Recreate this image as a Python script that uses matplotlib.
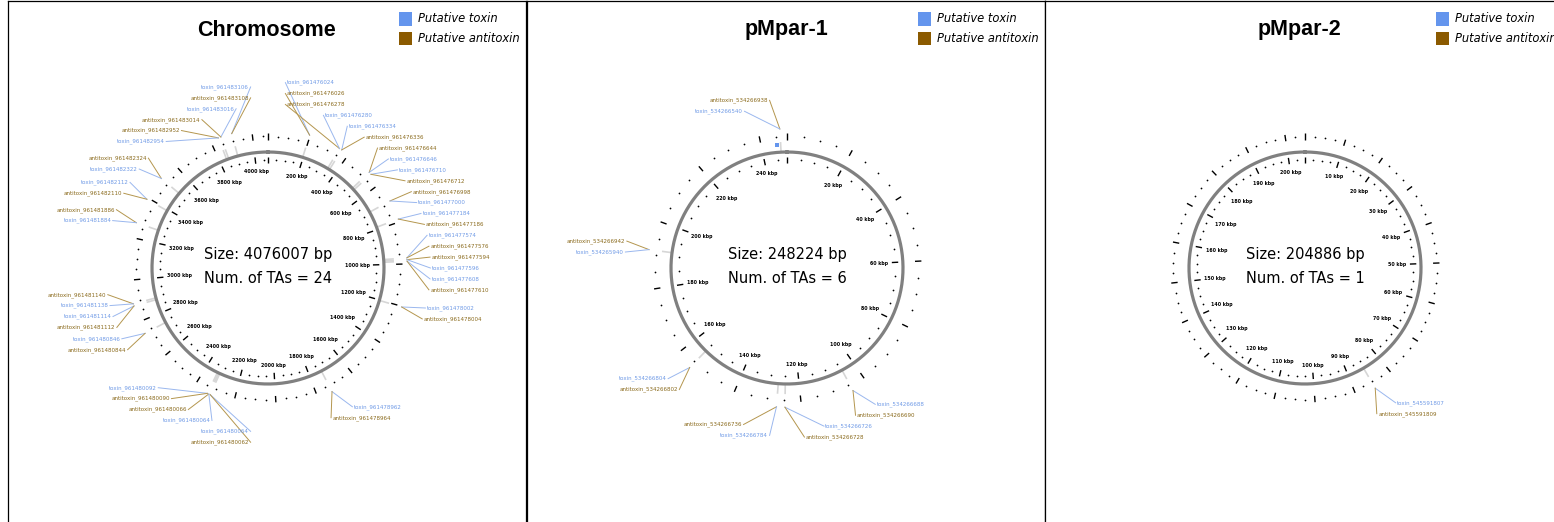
import numpy as np
import matplotlib.pyplot as plt
from matplotlib.collections import LineCollection
from matplotlib.patches import Rectangle

# replicons
replicons = ["Chromosome", "pMpar-1", "pMpar-2"]
lengths_bp = [4076007, 248224, 204886]
ruler_kbp = [200, 20, 10]

# TA loci: position (kbp) and the two gene labels, in stacking order
chrom_pos_kbp = [197, 350, 362, 528, 540, 693, 786, 972, 980, 987, 1203, 1728,
                 2316, 2323, 2330, 2740, 2878, 2888, 3272, 3392, 3510, 3840, 3852, 3905]
chrom_genes = [
    ("toxin_961476024", "antitoxin_961476026"),
    ("antitoxin_961476278", "toxin_961476280"),
    ("toxin_961476334", "antitoxin_961476336"),
    ("antitoxin_961476644", "toxin_961476646"),
    ("toxin_961476710", "antitoxin_961476712"),
    ("antitoxin_961476998", "toxin_961477000"),
    ("toxin_961477184", "antitoxin_961477186"),
    ("toxin_961477574", "antitoxin_961477576"),
    ("antitoxin_961477594", "toxin_961477596"),
    ("toxin_961477608", "antitoxin_961477610"),
    ("toxin_961478002", "antitoxin_961478004"),
    ("toxin_961478962", "antitoxin_961478964"),
    ("toxin_961480064", "antitoxin_961480062"),
    ("antitoxin_961480066", "toxin_961480064"),
    ("toxin_961480092", "antitoxin_961480090"),
    ("toxin_961480846", "antitoxin_961480844"),
    ("toxin_961481114", "antitoxin_961481112"),
    ("antitoxin_961481140", "toxin_961481138"),
    ("antitoxin_961481886", "toxin_961481884"),
    ("toxin_961482112", "antitoxin_961482110"),
    ("antitoxin_961482324", "toxin_961482322"),
    ("antitoxin_961482952", "toxin_961482954"),
    ("toxin_961483016", "antitoxin_961483014"),
    ("toxin_961483106", "antitoxin_961483108"),
]

p1_pos_kbp = [104.6, 124.7, 127.1, 154.7, 191.4, 246.2]
p1_genes = [
    ("toxin_534266688", "antitoxin_534266690"),
    ("toxin_534266726", "antitoxin_534266728"),
    ("antitoxin_534266736", "toxin_534266784"),
    ("toxin_534266804", "antitoxin_534266802"),
    ("antitoxin_534266942", "toxin_534265940"),
    ("antitoxin_534266938", "toxin_534266540"),
]

p2_pos_kbp = [85.2]
p2_genes = [("toxin_545591807", "antitoxin_545591809")]

loci_pos = [chrom_pos_kbp, p1_pos_kbp, p2_pos_kbp]
loci_genes = [chrom_genes, p1_genes, p2_genes]

# genes long enough to show up as a box on the map
boxed_genes = ["toxin_534266540"]

TOX_TEXT, TOX_LINE, TOX_KEY = "#6f9ae6", "#9ab7ee", "#6495ed"
ANTI_TEXT, ANTI_LINE, ANTI_KEY = "#8a6a1c", "#b4964e", "#8b5a00"

PX = 116.0          # pixels per unit ring radius
FIG_W, FIG_H = 1554, 522
panel_left = [8, 527, 1045]
panel_w = 518
cx_off, cy_from_bottom = 260, 254

R_LAB = 1.40
GAP = 0.094


def spread(ys, gap):
    # push neighbouring labels apart until they are at least gap apart
    ys = list(ys)
    for _ in range(500):
        moved = False
        for i in range(len(ys) - 1):
            over = gap - (ys[i] - ys[i + 1])
            if over > 1e-6:
                ys[i] += over / 2
                ys[i + 1] -= over / 2
                moved = True
        if not moved:
            break
    return ys


def radial(theta, r0, r1):
    s, c = np.sin(theta), np.cos(theta)
    return [[(r0 * a, r0 * b), (r1 * a, r1 * b)] for a, b in zip(s, c)]


def draw_replicon(ax, name, length, step, pos_kbp, genes, title_x):
    L = length / 1000.0
    # backbone
    t = np.linspace(0, 2 * np.pi, 500)
    ax.plot(np.sin(t), np.cos(t), color="#808080", lw=2.3, zorder=3)

    # ruler: major ticks every step, dots every quarter step, on both rings
    major = np.arange(0, L, step)
    minor = np.array([m for m in np.arange(0, L, step / 4.0)
                      if not np.isclose(m % step, 0) and not np.isclose(m % step, step)])
    th_major = 2 * np.pi * major / L
    th_minor = 2 * np.pi * minor / L
    for r_dot, r0, r1 in [(0.935, 0.905, 0.96), (1.135, 1.105, 1.16)]:
        ax.add_collection(LineCollection(radial(th_major, r0, r1), colors="k",
                                         linewidths=1.0, zorder=4))
        ax.scatter(r_dot * np.sin(th_minor), r_dot * np.cos(th_minor),
                   s=1.6, c="k", lw=0, zorder=4)

    # ruler labels
    fs_px = 3.4 * 100 / 72
    for k in major[1:]:
        th = 2 * np.pi * k / L
        lab = f"{int(round(k))} kbp"
        hw = 0.5 * len(lab) * 0.62 * fs_px / PX
        hh = 0.5 * fs_px / PX
        r = 0.87 - (hw * abs(np.sin(th)) + hh * abs(np.cos(th)))
        ax.text(r * np.sin(th), r * np.cos(th), lab, fontsize=3.4,
                fontweight="bold", ha="center", va="center", zorder=5)

    # TA loci with leader lines to their labels
    items = []
    for p, pair in zip(pos_kbp, genes):
        th = 2 * np.pi * p / L
        ax.plot([1.0 * np.sin(th), 1.08 * np.sin(th)],
                [1.0 * np.cos(th), 1.08 * np.cos(th)],
                color="#d6d6d6", lw=1.2, zorder=2)
        for g in pair:
            if g in boxed_genes:
                ax.plot(1.06 * np.sin(th - 0.03), 1.06 * np.cos(th - 0.03), "s",
                        ms=3.2, color=TOX_KEY if g.startswith("toxin") else ANTI_KEY,
                        mew=0, zorder=4)
        side = 1 if np.sin(th) > -0.03 else -1
        for g in pair:
            items.append((side, R_LAB * np.cos(th), th, g))

    for side in (1, -1):
        sel = sorted([it for it in items if it[0] == side], key=lambda it: -it[1])
        ys = spread([it[1] for it in sel], GAP)
        for (_, _, th, g), y in zip(sel, ys):
            x = side * max(np.sqrt(max(R_LAB ** 2 - y ** 2, 0.0)), 0.15)
            is_anti = g.startswith("antitoxin")
            ax.plot([1.2 * np.sin(th), x], [1.2 * np.cos(th), y],
                    color=ANTI_LINE if is_anti else TOX_LINE, lw=0.7, zorder=1)
            ax.text(x + side * 0.012, y, g, fontsize=4,
                    color=ANTI_TEXT if is_anti else TOX_TEXT,
                    ha="left" if side > 0 else "right", va="center", zorder=5)

    # summary in the middle
    ax.text(0, 0.12, f"Size: {length} bp", fontsize=10.5, ha="center", va="center")
    ax.text(0, -0.09, f"Num. of TAs = {len(pos_kbp)}", fontsize=10.5,
            ha="center", va="center")

    # title and key (placed in pixel offsets from the panel's top left)
    top = FIG_H - cy_from_bottom
    ax.text(title_x, (top - 30) / PX, name, fontsize=15.5, fontweight="bold",
            family="Liberation Sans", ha="center", va="center")
    for row, (lab, col) in enumerate([("Putative toxin", TOX_KEY),
                                      ("Putative antitoxin", ANTI_KEY)]):
        yc = (top - 19 - 19.5 * row) / PX
        ax.add_patch(Rectangle(((391 - cx_off) / PX, yc - 6.5 / PX), 13 / PX, 13 / PX,
                               facecolor=col, edgecolor="none"))
        ax.text((410 - cx_off) / PX, yc, lab, fontsize=8.3, style="italic",
                ha="left", va="center")


fig = plt.figure(figsize=(FIG_W / 100, FIG_H / 100), dpi=100)
ax_h = 521.5
for i in range(3):
    ax = fig.add_axes([panel_left[i] / FIG_W, 0, panel_w / FIG_W, ax_h / FIG_H])
    ax.set_xlim(-cx_off / PX, (panel_w - cx_off) / PX)
    ax.set_ylim(-cy_from_bottom / PX, (ax_h - cy_from_bottom) / PX)
    ax.set_xticks([])
    ax.set_yticks([])
    for sp in ax.spines.values():
        sp.set_linewidth(0.9)
        sp.set_color("k")
    ax.spines["bottom"].set_visible(False)
    # titles sit over the visible part of each panel
    vis_right = min(panel_left[i] + panel_w, FIG_W)
    title_x = ((panel_left[i] + vis_right) / 2 - panel_left[i] - cx_off) / PX
    draw_replicon(ax, replicons[i], lengths_bp[i], ruler_kbp[i],
                  loci_pos[i], loci_genes[i], title_x)

fig.savefig("out.png", dpi=100)
